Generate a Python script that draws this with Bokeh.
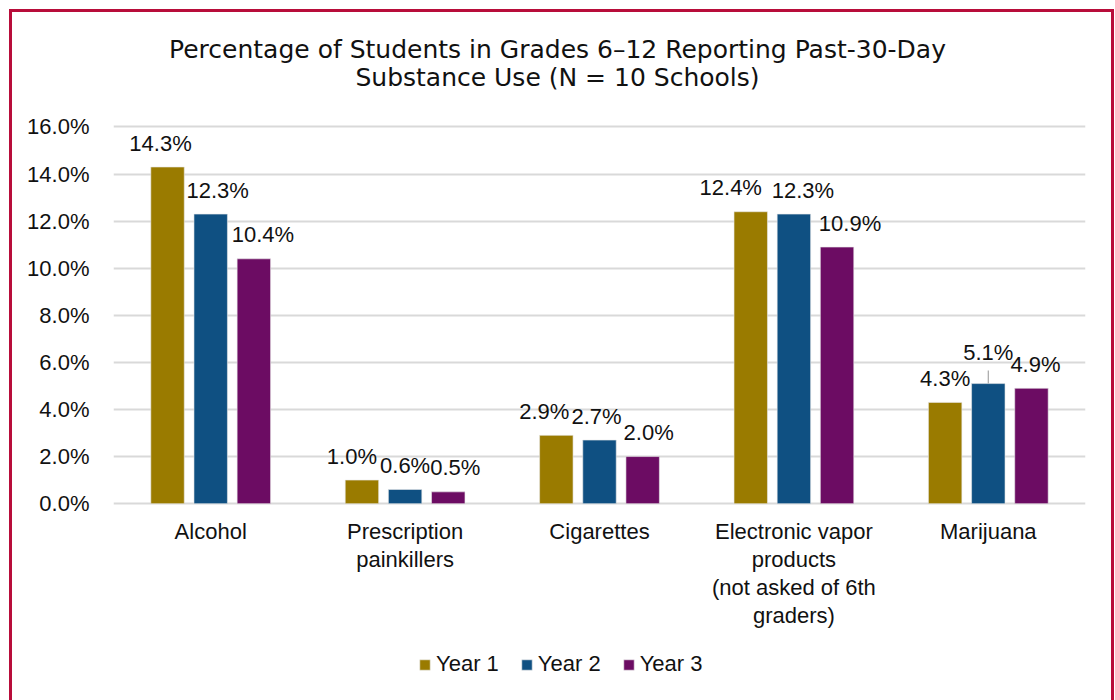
import math
from bokeh.plotting import figure
from bokeh.models import (ColumnDataSource, Legend, LegendItem,
                          PrintfTickFormatter, FixedTicker, Range1d)
from bokeh.transform import dodge
from bokeh.core.properties import value
from bokeh.embed import file_html
from bokeh.resources import INLINE

# ---------------- data ----------------
categories = ["Alcohol", "Prescription painkillers", "Cigarettes",
              "Electronic vapor products (not asked of 6th graders)", "Marijuana"]
category_labels = ["Alcohol", "Prescription\npainkillers", "Cigarettes",
                   "Electronic vapor\nproducts\n(not asked of 6th\ngraders)", "Marijuana"]
series_names = ["Year 1", "Year 2", "Year 3"]
year1 = [14.3, 1.0, 2.9, 12.4, 4.3]
year2 = [12.3, 0.6, 2.7, 12.3, 5.1]
year3 = [10.4, 0.5, 2.0, 10.9, 4.9]
y_ticks = [0, 2, 4, 6, 8, 10, 12, 14, 16]
title_text = "Percentage of Students in Grades 6\u201312 Reporting Past-30-Day\nSubstance Use (N = 10 Schools)"

# ---------------- styling ----------------
colors = ["#9A7B00", "#0F5082", "#6C0C63"]
offsets = [-0.222, 0.0, 0.222]
bar_w = 0.172
label_dx = [[-7, -10, -12, -20, 0], [7, 0, -3, 9, 0], [9, 7, 6, 13, 4]]
label_dy = [[-24] * 5, [-24, -24, -24, -24, -31], [-24] * 5]
TXT = "#111111"
FONT = "Liberation Sans"
TITLE_FONT = "DejaVu Sans"
BORDER = "3px solid #B80D3A"

# frame spans the whole canvas height; 0% and 16% land on the reference's gridlines
PX_PER_UNIT = 375 / 16.0
y_lo = -(702 - 503) / PX_PER_UNIT
y_hi = 16 + (128 - 14) / PX_PER_UNIT

p = figure(x_range=categories, y_range=Range1d(y_lo, y_hi),
           width=1105, height=691, output_backend="svg", toolbar_location=None,
           x_axis_location=None,
           min_border_left=101, min_border_right=32, min_border_top=0,
           min_border_bottom=0, margin=(9, 0, 0, 9),
           styles={"border-left": BORDER, "border-top": BORDER,
                   "border-right": BORDER, "box-sizing": "border-box"})
p.outline_line_color = None
p.background_fill_color = "white"
p.border_fill_color = "white"

series_vals = [year1, year2, year3]
renderers = []
for i, (name, vals) in enumerate(zip(series_names, series_vals)):
    src = ColumnDataSource(dict(
        cat=categories, val=vals,
        lab=[f"{v:.1f}%" for v in vals],
        dx=label_dx[i], dy=label_dy[i]))
    r = p.vbar(x=dodge("cat", offsets[i], range=p.x_range), top="val", bottom=0,
               width=bar_w, source=src, fill_color=colors[i],
               line_color="#e8e8e8", line_width=0.6)
    renderers.append(r)
    p.text(x=dodge("cat", offsets[i], range=p.x_range), y="val", text="lab",
           x_offset="dx", y_offset="dy", source=src,
           text_align="center", text_baseline="middle",
           text_font=value(FONT), text_font_size="22px", text_color=TXT)

# leader line for the raised Marijuana / Year 2 label
lead_src = ColumnDataSource(dict(cat=[categories[4]], val=[year2[4]]))
p.ray(x=dodge("cat", offsets[1], range=p.x_range), y="val", length=13,
      length_units="screen", angle=math.pi / 2, source=lead_src,
      line_color="#A6A6A6", line_width=1.2)

# category labels (multi-line) under the baseline
cat_src = ColumnDataSource(dict(cat=categories, lab=category_labels,
                                base=[0] * len(categories)))
p.text(x="cat", y="base", text="lab", source=cat_src, y_offset=15,
       text_align="center", text_baseline="top", text_line_height=1.13,
       text_font=value(FONT), text_font_size="22px", text_color=TXT)

# title
title_src = ColumnDataSource(dict(cat=[categories[2]], top=[y_ticks[-1]], t=[title_text]))
p.text(x="cat", y="top", text="t", source=title_src, x_offset=-42, y_offset=-92,
       text_align="center", text_baseline="top", text_line_height=0.98,
       text_font=value(TITLE_FONT), text_font_size="25px", text_color=TXT)

# axes
p.yaxis.ticker = FixedTicker(ticks=y_ticks)
p.yaxis.formatter = PrintfTickFormatter(format="%.1f%%")
p.yaxis.axis_line_color = None
p.yaxis.major_tick_line_color = None
p.yaxis.minor_tick_line_color = None
p.yaxis.major_label_standoff = 18
p.yaxis.major_label_text_font = FONT
p.yaxis.major_label_text_font_size = "22px"
p.yaxis.major_label_text_color = TXT

p.xgrid.grid_line_color = None
p.ygrid.ticker = FixedTicker(ticks=y_ticks)
p.ygrid.grid_line_color = "#D9D9D9"
p.ygrid.grid_line_width = 2

# legend
legend = Legend(items=[LegendItem(label=n, renderers=[r]) for n, r in zip(series_names, renderers)],
                orientation="horizontal", location=(305, 26),
                glyph_width=13, glyph_height=13, label_standoff=5, spacing=21,
                padding=0, margin=0, border_line_color=None,
                background_fill_alpha=0,
                label_text_font=FONT, label_text_font_size="22px",
                label_text_color=TXT)
p.add_layout(legend, "center")

open("out.html", "w").write(file_html(p, INLINE))
